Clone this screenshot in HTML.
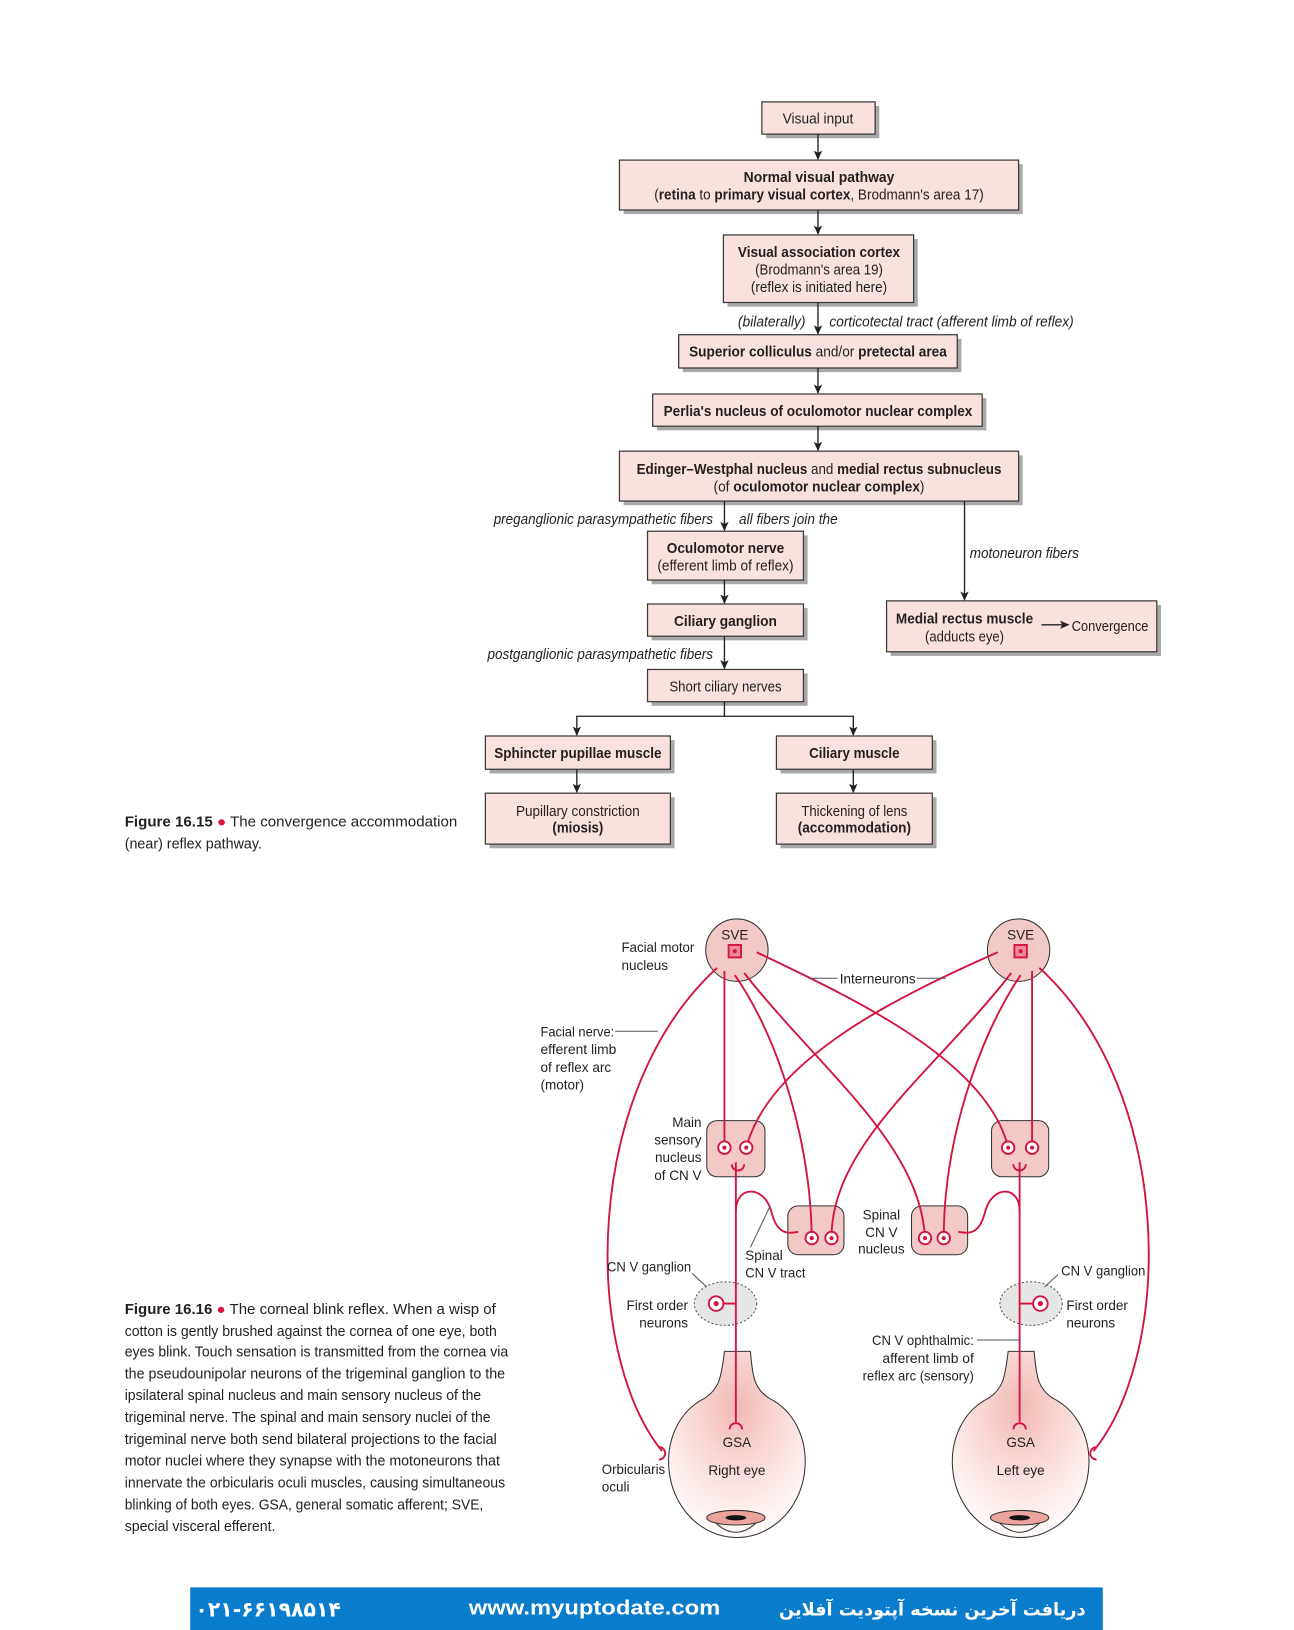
<!DOCTYPE html>
<html><head><meta charset="utf-8"><style>
html,body{margin:0;padding:0;background:#fff;}
svg{display:block;}
text{font-family:"Liberation Sans",sans-serif;fill:#231f20;}
.b{font-weight:bold;}
.i{font-style:italic;}
.box{fill:#f9e1de;stroke:#3a3a3a;stroke-width:1.2;}
.sh{fill:#a8a8a8;}
.ln{stroke:#222;stroke-width:1.3;fill:none;}
.r{stroke:#d2143f;stroke-width:1.8;fill:none;}
.nuc{fill:#f3c9c8;stroke:#333;stroke-width:1;}
</style></head><body>
<svg width="1294" height="1630" viewBox="0 0 1245 1568" preserveAspectRatio="none" xmlns="http://www.w3.org/2000/svg">
<defs>
<marker id="ar" markerWidth="10" markerHeight="10" refX="8" refY="5" orient="auto" markerUnits="userSpaceOnUse"><path d="M0,1 L9,5 L0,9 L2,5z" fill="#222"/></marker>
<radialGradient id="eg" cx="0.5" cy="0.3" r="0.75"><stop offset="0" stop-color="#f2b8b4"/><stop offset="0.6" stop-color="#fbe6e4"/><stop offset="1" stop-color="#fff"/></radialGradient>
</defs>
<g font-size="14">
<rect class="sh" x="737" y="102" width="109" height="31"/><rect class="box" x="733" y="98" width="109" height="31"/>
<text x="787" y="119" text-anchor="middle" textLength="68" lengthAdjust="spacingAndGlyphs">Visual input</text>
<rect class="sh" x="600" y="158" width="384" height="48"/><rect class="box" x="596" y="154" width="384" height="48"/>
<text x="788" y="175" text-anchor="middle" class="b" textLength="145" lengthAdjust="spacingAndGlyphs">Normal visual pathway</text>
<text x="788" y="192" text-anchor="middle" textLength="317" lengthAdjust="spacingAndGlyphs">(<tspan class="b">retina</tspan> to <tspan class="b">primary visual cortex</tspan>, Brodmann's area 17)</text>
<rect class="sh" x="700" y="230" width="183" height="65"/><rect class="box" x="696" y="226" width="183" height="65"/>
<text x="788" y="247" text-anchor="middle" class="b" textLength="156" lengthAdjust="spacingAndGlyphs">Visual association cortex</text>
<text x="788" y="264" text-anchor="middle" textLength="123" lengthAdjust="spacingAndGlyphs">(Brodmann's area 19)</text>
<text x="788" y="281" text-anchor="middle" textLength="131" lengthAdjust="spacingAndGlyphs">(reflex is initiated here)</text>
<text x="710" y="314" class="i" textLength="65" lengthAdjust="spacingAndGlyphs">(bilaterally)</text>
<text x="798" y="314" class="i" textLength="235" lengthAdjust="spacingAndGlyphs">corticotectal tract (afferent limb of reflex)</text>
<rect class="sh" x="657" y="326" width="268" height="32"/><rect class="box" x="653" y="322" width="268" height="32"/>
<text x="787" y="343" text-anchor="middle" textLength="248" lengthAdjust="spacingAndGlyphs"><tspan class="b">Superior colliculus</tspan> and/or <tspan class="b">pretectal area</tspan></text>
<rect class="sh" x="632" y="383" width="317" height="31"/><rect class="box" x="628" y="379" width="317" height="31"/>
<text x="787" y="400" text-anchor="middle" class="b" textLength="297" lengthAdjust="spacingAndGlyphs">Perlia's nucleus of oculomotor nuclear complex</text>
<rect class="sh" x="600" y="438" width="384" height="48"/><rect class="box" x="596" y="434" width="384" height="48"/>
<text x="788" y="456" text-anchor="middle" textLength="351" lengthAdjust="spacingAndGlyphs"><tspan class="b">Edinger–Westphal nucleus</tspan> and <tspan class="b">medial rectus subnucleus</tspan></text>
<text x="788" y="473" text-anchor="middle" textLength="203" lengthAdjust="spacingAndGlyphs">(of <tspan class="b">oculomotor nuclear complex</tspan>)</text>
<text x="475" y="504" class="i" textLength="211" lengthAdjust="spacingAndGlyphs">preganglionic parasympathetic fibers</text>
<text x="711" y="504" class="i" textLength="95" lengthAdjust="spacingAndGlyphs">all fibers join the</text>
<rect class="sh" x="627" y="515" width="150" height="47"/><rect class="box" x="623" y="511" width="150" height="47"/>
<text x="698" y="532" text-anchor="middle" class="b" textLength="113" lengthAdjust="spacingAndGlyphs">Oculomotor nerve</text>
<text x="698" y="549" text-anchor="middle" textLength="131" lengthAdjust="spacingAndGlyphs">(efferent limb of reflex)</text>
<text x="933" y="537" class="i" textLength="105" lengthAdjust="spacingAndGlyphs">motoneuron fibers</text>
<rect class="sh" x="627" y="585" width="150" height="31"/><rect class="box" x="623" y="581" width="150" height="31"/>
<text x="698" y="602" text-anchor="middle" class="b" textLength="99" lengthAdjust="spacingAndGlyphs">Ciliary ganglion</text>
<rect class="sh" x="857" y="582" width="260" height="49"/><rect class="box" x="853" y="578" width="260" height="49"/>
<text x="928" y="600" text-anchor="middle" class="b" textLength="132" lengthAdjust="spacingAndGlyphs">Medial rectus muscle</text>
<text x="928" y="617" text-anchor="middle" textLength="76" lengthAdjust="spacingAndGlyphs">(adducts eye)</text>
<text x="1031" y="607" textLength="74" lengthAdjust="spacingAndGlyphs">Convergence</text>
<text x="469" y="634" class="i" textLength="217" lengthAdjust="spacingAndGlyphs">postganglionic parasympathetic fibers</text>
<rect class="sh" x="627" y="648" width="150" height="31"/><rect class="box" x="623" y="644" width="150" height="31"/>
<text x="698" y="665" text-anchor="middle" textLength="108" lengthAdjust="spacingAndGlyphs">Short ciliary nerves</text>
<rect class="sh" x="471" y="712" width="178" height="32"/><rect class="box" x="467" y="708" width="178" height="32"/>
<text x="556" y="729" text-anchor="middle" class="b" textLength="161" lengthAdjust="spacingAndGlyphs">Sphincter pupillae muscle</text>
<rect class="sh" x="751" y="712" width="150" height="32"/><rect class="box" x="747" y="708" width="150" height="32"/>
<text x="822" y="729" text-anchor="middle" class="b" textLength="87" lengthAdjust="spacingAndGlyphs">Ciliary muscle</text>
<rect class="sh" x="471" y="767" width="178" height="49"/><rect class="box" x="467" y="763" width="178" height="49"/>
<text x="556" y="785" text-anchor="middle" textLength="119" lengthAdjust="spacingAndGlyphs">Pupillary constriction</text>
<text x="556" y="801" text-anchor="middle" class="b" textLength="49" lengthAdjust="spacingAndGlyphs">(miosis)</text>
<rect class="sh" x="751" y="767" width="150" height="49"/><rect class="box" x="747" y="763" width="150" height="49"/>
<text x="822" y="785" text-anchor="middle" textLength="102" lengthAdjust="spacingAndGlyphs">Thickening of lens</text>
<text x="822" y="801" text-anchor="middle" class="b" textLength="109" lengthAdjust="spacingAndGlyphs">(accommodation)</text>
</g>
<g class="ln" marker-end="url(#ar)">
<line x1="787" y1="129" x2="787" y2="153"/>
<line x1="787" y1="202" x2="787" y2="225"/>
<line x1="787" y1="291" x2="787" y2="321"/>
<line x1="787" y1="354" x2="787" y2="378"/>
<line x1="787" y1="410" x2="787" y2="433"/>
<line x1="697" y1="482" x2="697" y2="510"/>
<line x1="928" y1="482" x2="928" y2="577"/>
<line x1="697" y1="558" x2="697" y2="580"/>
<line x1="697" y1="612" x2="697" y2="643"/>
<line x1="1002" y1="601" x2="1028" y2="601"/>
<polyline points="697,675 697,689 555,689 555,707"/>
<polyline points="697,689 821,689 821,707"/>
<line x1="555" y1="740" x2="555" y2="762"/>
<line x1="821" y1="740" x2="821" y2="762"/>
</g>
<g font-size="14">
<text x="120" y="795" textLength="320" lengthAdjust="spacingAndGlyphs"><tspan class="b">Figure 16.15</tspan>  <tspan style="fill:#d2143f">●</tspan>  The convergence accommodation</text>
<text x="120" y="816" textLength="132" lengthAdjust="spacingAndGlyphs">(near) reflex pathway.</text>
</g>

<g>
<circle class="nuc" cx="709" cy="914" r="30"/>
<circle class="nuc" cx="980" cy="914" r="30"/>
<rect class="nuc" x="680" y="1078" width="56" height="54" rx="10"/>
<rect class="nuc" x="954" y="1078" width="55" height="54" rx="10"/>
<rect class="nuc" x="758" y="1160" width="54" height="47" rx="10"/>
<rect class="nuc" x="877" y="1160" width="54" height="47" rx="10"/>
<ellipse cx="698" cy="1254" rx="30" ry="21" fill="#e6e6e6" stroke="#555" stroke-dasharray="2,2"/>
<ellipse cx="992" cy="1254" rx="30" ry="21" fill="#e6e6e6" stroke="#555" stroke-dasharray="2,2"/>
<g stroke="#333" stroke-width="1">
<path d="M697,1300 C694,1325 692,1336 678,1345 C628,1370 632,1455 690,1476 Q709,1482 728,1476 C786,1455 790,1370 740,1345 C726,1336 724,1325 722,1300 Z" fill="url(#eg)"/>
<path d="M970,1300 C967,1325 965,1336 951,1345 C901,1370 905,1455 963,1476 Q982,1482 1001,1476 C1059,1455 1063,1370 1013,1345 C999,1336 997,1325 995,1300 Z" fill="url(#eg)"/>
<path d="M682,1458 Q708,1490 734,1458" fill="none"/>
<path d="M955,1458 Q981,1490 1007,1458" fill="none"/>
<ellipse cx="708" cy="1460" rx="28" ry="7" fill="#eaa49d"/>
<ellipse cx="981" cy="1460" rx="28" ry="7" fill="#eaa49d"/>
</g>
<ellipse cx="708" cy="1460" rx="10" ry="2.5" fill="#111"/>
<ellipse cx="981" cy="1460" rx="10" ry="2.5" fill="#111"/>
<g class="r">
<rect x="701" y="909" width="12" height="12" fill="#f08a97"/>
<rect x="976" y="909" width="12" height="12" fill="#f08a97"/>
<line x1="697" y1="934" x2="697" y2="1104"/>
<path d="M707,938 C750,1000 780,1100 781,1191"/>
<path d="M716,936 C790,1030 885,1100 890,1191"/>
<path d="M728,916 C820,960 950,1020 970,1104"/>
<path d="M690,931 C560,1050 560,1300 637,1396"/>
<line x1="993" y1="934" x2="993" y2="1104"/>
<path d="M982,938 C940,1000 908,1100 908,1191"/>
<path d="M973,936 C900,1030 800,1100 800,1191"/>
<path d="M960,916 C860,960 740,1020 718,1104"/>
<path d="M1000,931 C1130,1050 1130,1300 1052,1396"/>
<line x1="708" y1="1118" x2="708" y2="1368"/>
<line x1="981" y1="1118" x2="981" y2="1368"/>
<path d="M708,1165 C708,1140 735,1140 742,1165 C748,1190 760,1186 768,1185"/>
<path d="M981,1165 C981,1140 955,1140 948,1165 C942,1190 930,1186 922,1185"/>
<line x1="689" y1="1254" x2="708" y2="1254"/>
<line x1="1001" y1="1254" x2="981" y2="1254"/>
<path d="M702,1375 a6,6 0 0 1 12,0"/>
<path d="M975,1375 a6,6 0 0 1 12,0"/>
<path d="M634,1392 a6,6 0 0 1 0,12"/>
<path d="M1055,1392 a6,6 0 0 0 0,12"/>
<path d="M716,1120 a6,6 0 0 1 -12,0"/>
<path d="M987,1120 a6,6 0 0 1 -12,0"/>
</g>
<g fill="#fff" stroke="#d2143f" stroke-width="1.8">
<circle cx="697" cy="1104" r="6"/><circle cx="718" cy="1104" r="6"/>
<circle cx="970" cy="1104" r="6"/><circle cx="993" cy="1104" r="6"/>
<circle cx="781" cy="1191" r="6"/><circle cx="800" cy="1191" r="6"/>
<circle cx="890" cy="1191" r="6"/><circle cx="908" cy="1191" r="6"/>
<circle cx="689" cy="1254" r="7"/><circle cx="1001" cy="1254" r="7"/>
</g>
<g fill="#d2143f">
<circle cx="707" cy="915" r="2"/><circle cx="982" cy="915" r="2"/>
<circle cx="697" cy="1104" r="2"/><circle cx="718" cy="1104" r="2"/>
<circle cx="970" cy="1104" r="2"/><circle cx="993" cy="1104" r="2"/>
<circle cx="781" cy="1191" r="2"/><circle cx="800" cy="1191" r="2"/>
<circle cx="890" cy="1191" r="2"/><circle cx="908" cy="1191" r="2"/>
<circle cx="689" cy="1254" r="2.5"/><circle cx="1001" cy="1254" r="2.5"/>
</g>
<g stroke="#555" stroke-width="1" fill="none">
<line x1="778" y1="941" x2="806" y2="941"/><line x1="882" y1="941" x2="910" y2="941"/>
<line x1="592" y1="992" x2="633" y2="992"/>
<line x1="741" y1="1160" x2="722" y2="1200"/>
<line x1="666" y1="1225" x2="680" y2="1238"/>
<line x1="1018" y1="1226" x2="1005" y2="1238"/>
<line x1="940" y1="1289" x2="982" y2="1289"/>
</g>
<g font-size="13">
<text x="707" y="904" text-anchor="middle">SVE</text>
<text x="982" y="904" text-anchor="middle">SVE</text>
<text x="598" y="916" textLength="70" lengthAdjust="spacingAndGlyphs">Facial motor</text><text x="598" y="933">nucleus</text>
<text x="808" y="946" textLength="73" lengthAdjust="spacingAndGlyphs">Interneurons</text>
<text x="520" y="997" textLength="71" lengthAdjust="spacingAndGlyphs">Facial nerve:</text><text x="520" y="1014" textLength="73" lengthAdjust="spacingAndGlyphs">efferent limb</text><text x="520" y="1031" textLength="68" lengthAdjust="spacingAndGlyphs">of reflex arc</text><text x="520" y="1048">(motor)</text>
<text x="675" y="1084" text-anchor="end">Main</text><text x="675" y="1101" text-anchor="end">sensory</text><text x="675" y="1118" text-anchor="end">nucleus</text><text x="675" y="1135" text-anchor="end">of CN V</text>
<text x="717" y="1212">Spinal</text><text x="717" y="1229" textLength="58" lengthAdjust="spacingAndGlyphs">CN V tract</text>
<text x="848" y="1173" text-anchor="middle">Spinal</text><text x="848" y="1190" text-anchor="middle">CN V</text><text x="848" y="1206" text-anchor="middle">nucleus</text>
<text x="584" y="1223" textLength="81" lengthAdjust="spacingAndGlyphs">CN V ganglion</text>
<text x="662" y="1260" text-anchor="end">First order</text><text x="662" y="1277" text-anchor="end">neurons</text>
<text x="1021" y="1227" textLength="81" lengthAdjust="spacingAndGlyphs">CN V ganglion</text>
<text x="1026" y="1260">First order</text><text x="1026" y="1277">neurons</text>
<text x="937" y="1294" text-anchor="end" textLength="98" lengthAdjust="spacingAndGlyphs">CN V ophthalmic:</text><text x="937" y="1311" text-anchor="end" textLength="88" lengthAdjust="spacingAndGlyphs">afferent limb of</text><text x="937" y="1328" text-anchor="end" textLength="107" lengthAdjust="spacingAndGlyphs">reflex arc (sensory)</text>
<text x="709" y="1392" text-anchor="middle">GSA</text><text x="709" y="1419" text-anchor="middle">Right eye</text>
<text x="982" y="1392" text-anchor="middle">GSA</text><text x="982" y="1419" text-anchor="middle">Left eye</text>
<text x="579" y="1418" textLength="61" lengthAdjust="spacingAndGlyphs">Orbicularis</text><text x="579" y="1435">oculi</text>
</g>
<g font-size="14">
<text x="120" y="1264" textLength="357" lengthAdjust="spacingAndGlyphs"><tspan class="b">Figure 16.16</tspan>  <tspan style="fill:#d2143f">●</tspan>  The corneal blink reflex. When a wisp of</text>
<text x="120" y="1285" textLength="358" lengthAdjust="spacingAndGlyphs">cotton is gently brushed against the cornea of one eye, both</text>
<text x="120" y="1305" textLength="369" lengthAdjust="spacingAndGlyphs">eyes blink. Touch sensation is transmitted from the cornea via</text>
<text x="120" y="1326" textLength="366" lengthAdjust="spacingAndGlyphs">the pseudounipolar neurons of the trigeminal ganglion to the</text>
<text x="120" y="1347" textLength="343" lengthAdjust="spacingAndGlyphs">ipsilateral spinal nucleus and main sensory nucleus of the</text>
<text x="120" y="1368" textLength="352" lengthAdjust="spacingAndGlyphs">trigeminal nerve. The spinal and main sensory nuclei of the</text>
<text x="120" y="1389" textLength="358" lengthAdjust="spacingAndGlyphs">trigeminal nerve both send bilateral projections to the facial</text>
<text x="120" y="1410" textLength="361" lengthAdjust="spacingAndGlyphs">motor nuclei where they synapse with the motoneurons that</text>
<text x="120" y="1431" textLength="366" lengthAdjust="spacingAndGlyphs">innervate the orbicularis oculi muscles, causing simultaneous</text>
<text x="120" y="1452" textLength="345" lengthAdjust="spacingAndGlyphs">blinking of both eyes. GSA, general somatic afferent; SVE,</text>
<text x="120" y="1473" textLength="145" lengthAdjust="spacingAndGlyphs">special visceral efferent.</text>
</g>
</g>
<rect x="183" y="1527" width="878" height="41" fill="#0a7ccc"/>
<g font-weight="bold" font-size="20">
<text x="188" y="1555" textLength="140" lengthAdjust="spacingAndGlyphs" style="fill:#fff;font-family:'DejaVu Sans',sans-serif">۰۲۱-۶۶۱۹۸۵۱۴</text>
<text x="572" y="1553" text-anchor="middle" textLength="242" lengthAdjust="spacingAndGlyphs" style="fill:#fff;font-family:'Liberation Sans',sans-serif">www.myuptodate.com</text>
<text x="897" y="1554" text-anchor="middle" font-size="17" style="fill:#fff;font-family:'DejaVu Sans',sans-serif">دریافت آخرین نسخه آپتودیت آفلاین</text>
</g>
</svg>
</body></html>
